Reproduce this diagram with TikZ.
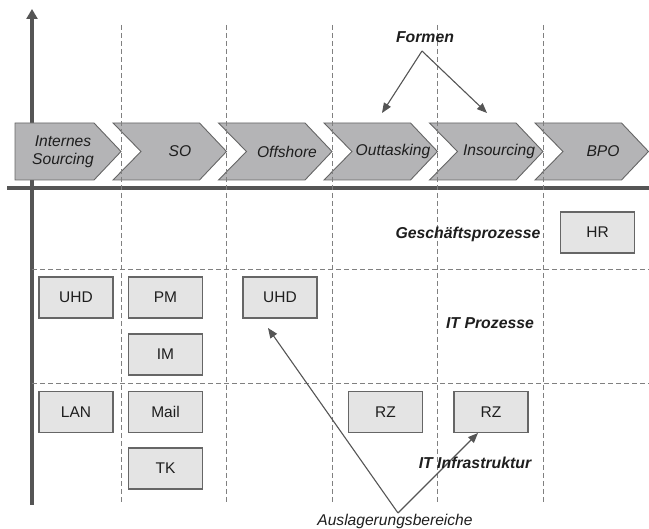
\documentclass[tikz,border=0pt]{standalone}
\usepackage{fontspec}
\setmainfont{Liberation Sans}
\usetikzlibrary{arrows.meta}
\definecolor{chev}{HTML}{B4B4B6}
\definecolor{boxfill}{HTML}{E4E4E4}
\definecolor{edge}{HTML}{666666}
\definecolor{ink}{HTML}{1E1E1E}
\definecolor{axis}{HTML}{555555}
\definecolor{grid}{HTML}{808080}
\begin{document}
\begin{tikzpicture}[x=1pt,y=-1pt,
  chevron/.style={fill=chev,draw=edge,line width=0.9pt,line join=miter},
  itembox/.style={draw=edge,fill=boxfill,line width=1.1pt,minimum width=74pt,
    minimum height=41pt,inner sep=0pt,font=\fontsize{15.5}{18}\selectfont,text=ink},
  formlabel/.style={font=\fontsize{15.6}{18}\selectfont\itshape,text=ink,align=center,inner sep=0pt},
  arealabel/.style={font=\fontsize{15.8}{18}\selectfont\bfseries\itshape,text=ink,inner sep=0pt},
  pointer/.style={draw=axis,line width=1.1pt,-{Triangle[width=8pt,length=10pt]}},
  gridline/.style={draw=grid,line width=0.9pt,dash pattern=on 5pt off 3pt},
  axisline/.style={draw=axis,line width=3.3pt}]
\useasboundingbox (0,0) rectangle (649,529);

% axes
\coordinate (yfoot) at (32,505);
\coordinate (ytip) at (32,9);
\coordinate (xstart) at (7,188);
\coordinate (xend) at (649,188);
\draw[axisline,-{Triangle[width=11pt,length=10pt]}] (yfoot) -- (ytip);
\draw[axisline] (xstart) -- (xend);

% process chevrons: a flat-ended first step, then notched steps
\draw[chevron] (15,123) -- (94,123) -- (121,151.5) -- (94,180) -- (15,180) -- cycle;
\foreach \p/\t in {121/226.5, 226.5/332, 332/437.5, 437.5/543, 543/648.5}
  \draw[chevron] (\p-8,123) -- (\t-27,123) -- (\t,151.5) -- (\t-27,180)
    -- (\p-8,180) -- (\p+20,151.5) -- cycle;

% column separators and row separators
\foreach \x in {121,226.5,332,437.5,543}
  \draw[gridline] (\x,25) -- (\x,503);
\foreach \y in {269,383}
  \draw[gridline] (32,\y) -- (649,\y);

% step labels
\node[formlabel] (internes) at (63,151.5) {Internes\\Sourcing};
\node[formlabel] (so) at (180,151.5) {SO};
\node[formlabel] (offshore) at (287,151.5) {Offshore};
\node[formlabel] (outtasking) at (393,151.5) {Outtasking};
\node[formlabel] (insourcing) at (499,151.5) {Insourcing};
\node[formlabel] (bpo) at (603,151.5) {BPO};

% area labels
\node[arealabel] (formen) at (425,37) {Formen};
\node[arealabel] (gp) at (468,234) {Geschäftsprozesse};
\node[arealabel] (itp) at (490,323) {IT Prozesse};
\node[formlabel] (ausl) at (395,521) {Auslagerungsbereiche};

% outsourced items
\node[itembox] (uhdA) at (76,297.5) {UHD};
\node[itembox] (pm) at (165.5,297.5) {PM};
\node[itembox] (uhdB) at (280,297.5) {UHD};
\node[itembox] (im) at (165.5,354.5) {IM};
\node[itembox] (hr) at (597.5,232.5) {HR};
\node[itembox] (lan) at (76,412) {LAN};
\node[itembox] (mail) at (165.5,412) {Mail};
\node[itembox] (tk) at (165.5,468.5) {TK};
\node[itembox] (rzA) at (385.5,412) {RZ};
\node[itembox] (rzB) at (491,412) {RZ};

% pointers
\coordinate (formenFork) at (422,51);
\coordinate (formenL) at (382,113);
\coordinate (formenR) at (487,113);
\draw[pointer] (formenFork) -- (formenL);
\draw[pointer] (formenFork) -- (formenR);

\coordinate (auslFork) at (398,513);
\coordinate (auslL) at (268,328);
\coordinate (auslR) at (478,433);
\draw[pointer] (auslFork) -- (auslL);
\draw[pointer] (auslFork) -- (auslR);

\node[arealabel] (iti) at (475,463) {IT Infrastruktur};
\end{tikzpicture}
\end{document}
